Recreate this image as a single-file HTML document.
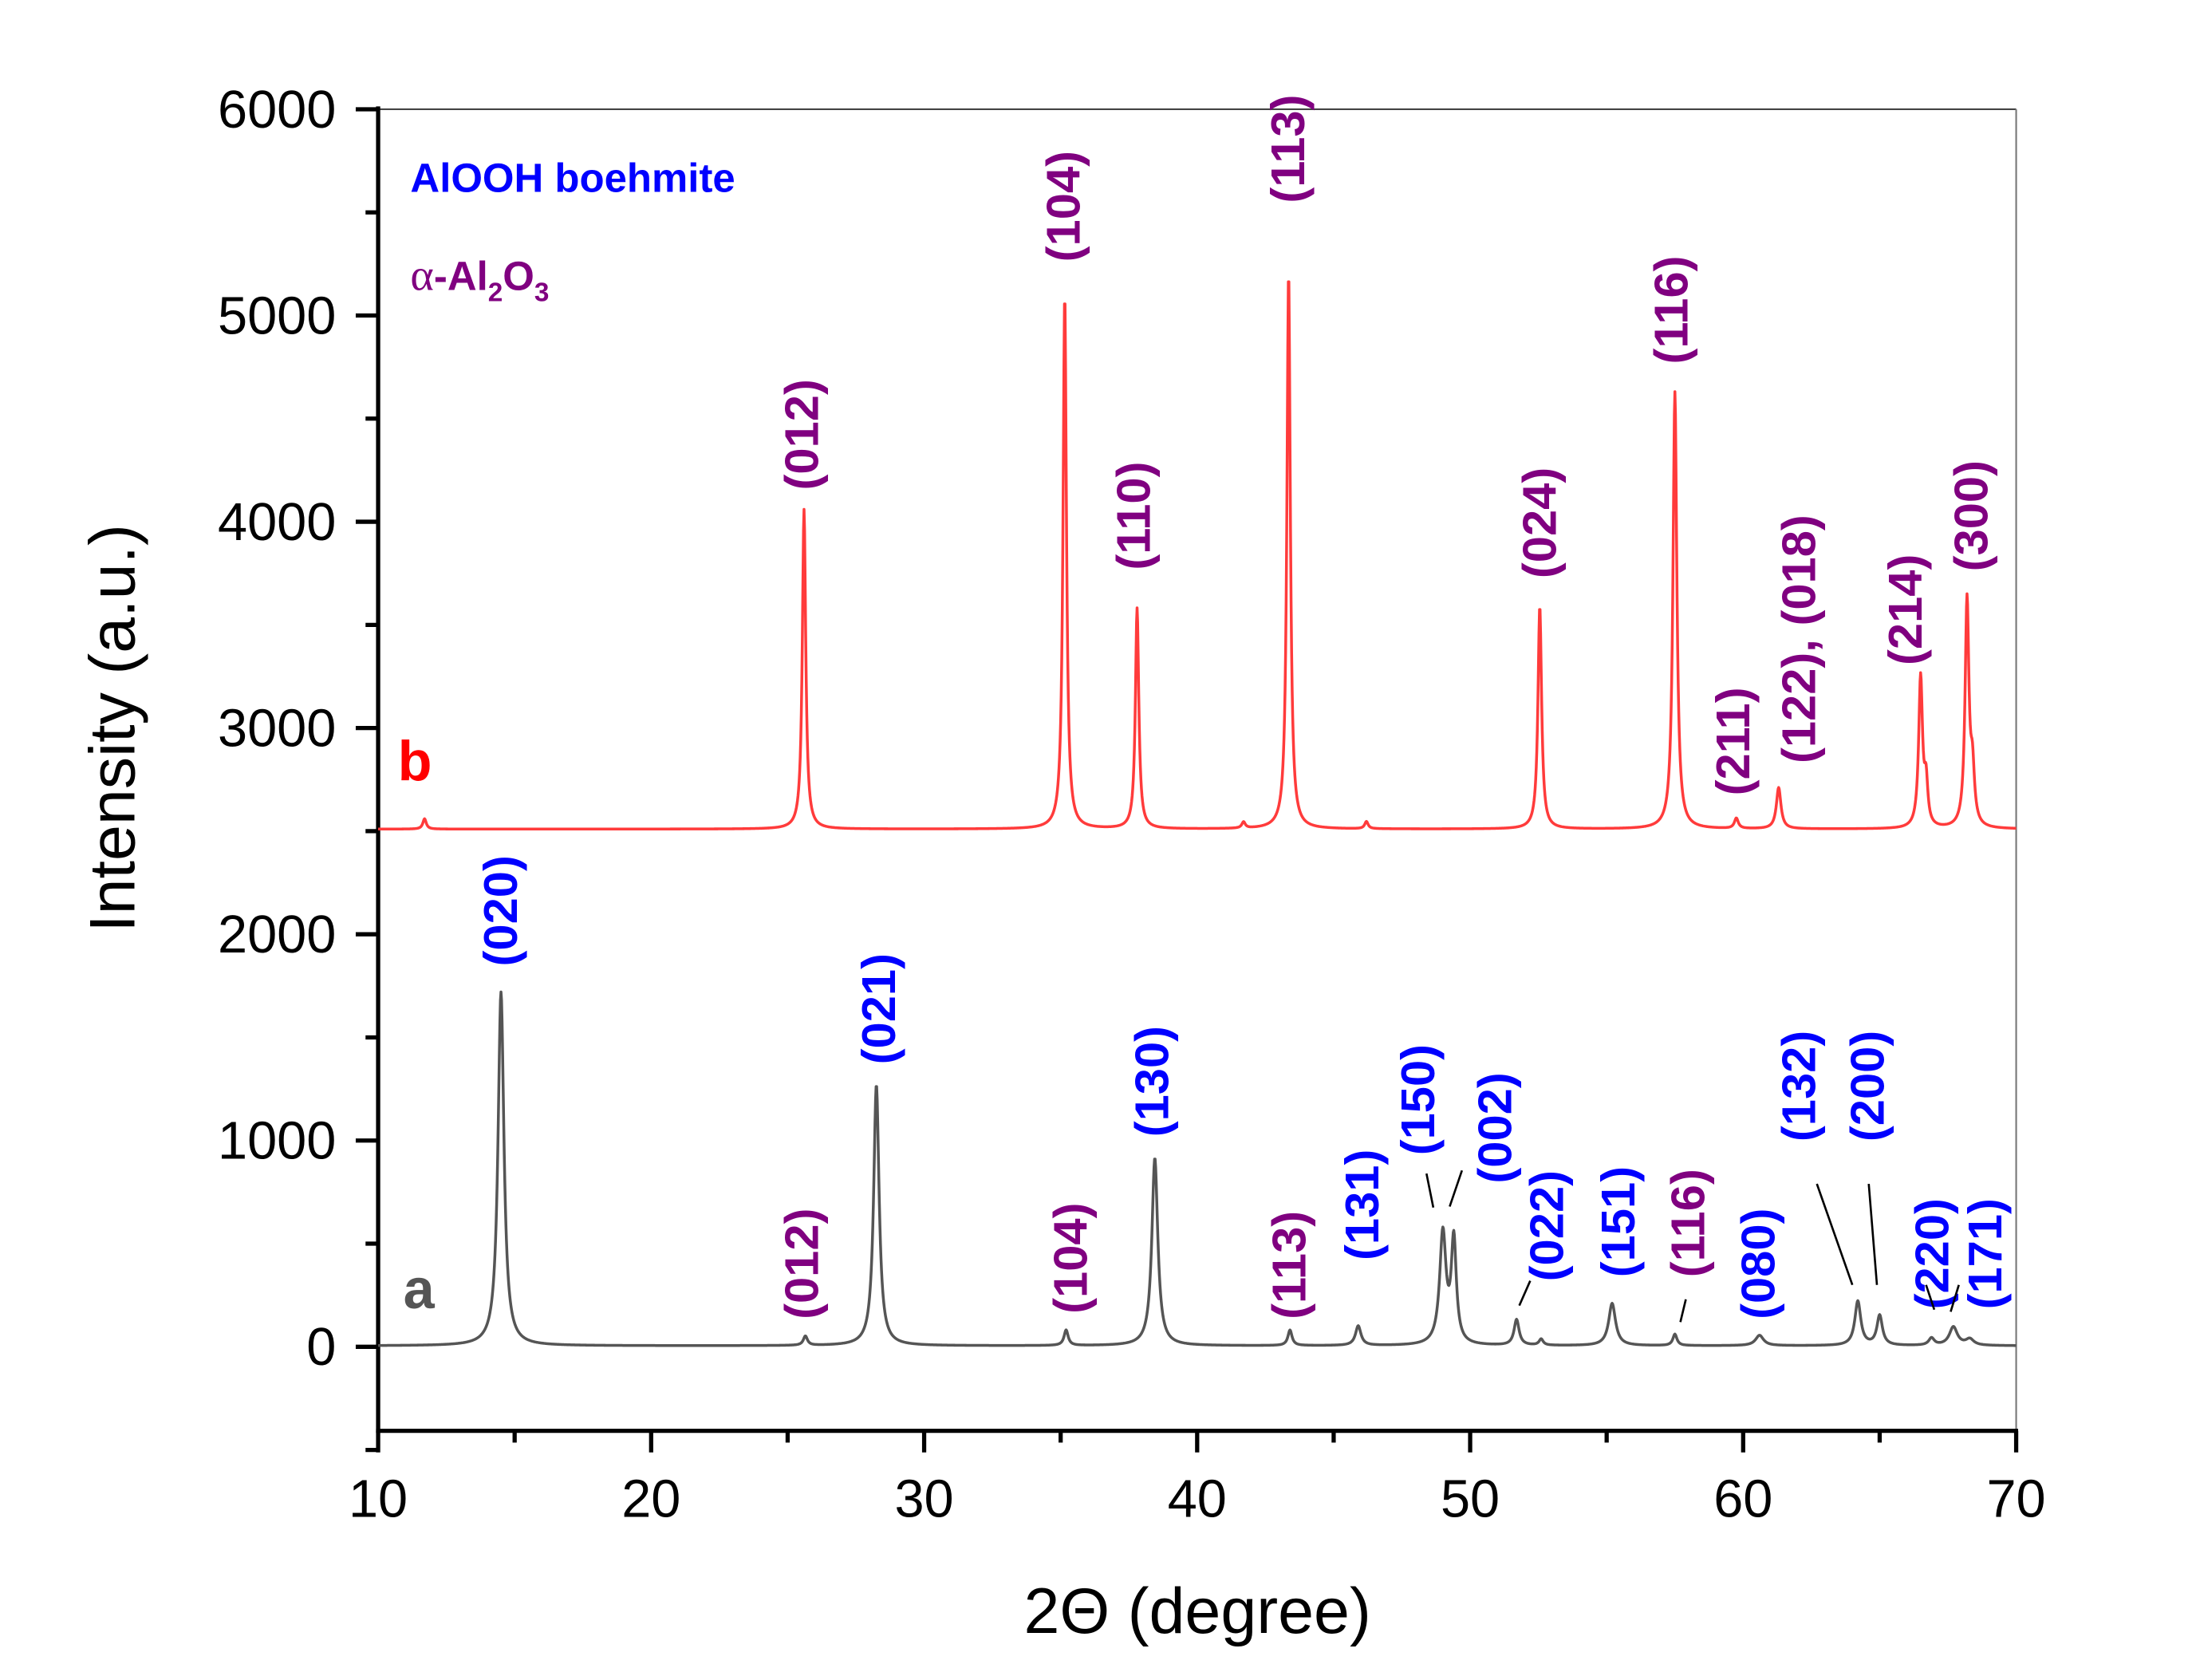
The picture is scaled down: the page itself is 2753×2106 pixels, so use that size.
<!DOCTYPE html>
<html><head><meta charset="utf-8"><style>
html,body{margin:0;padding:0;background:#fff;}
svg{display:block;font-family:"Liberation Sans",Arial,sans-serif;}
</style></head><body>
<svg id="chart" width="2753" height="2106" viewBox="0 0 1568 1199.5" xmlns="http://www.w3.org/2000/svg">
<g id="axes"></g>
<g id="series"></g>
<g id="labels"></g>
<text x="293" y="137" font-size="29" font-weight="bold" fill="#0000ff">AlOOH boehmite</text>
<text x="293" y="207" font-size="29" font-weight="bold" fill="#800080"><tspan font-family="'Liberation Serif',serif" font-weight="normal" font-size="32">α</tspan>-Al<tspan font-size="19" dy="8">2</tspan><tspan dy="-8">O</tspan><tspan font-size="19" dy="8">3</tspan></text>
<text x="284" y="557" font-size="40" font-weight="bold" fill="#ff0000">b</text>
<text x="288" y="934" font-size="40" font-weight="bold" fill="#555">a</text>
<text x="855" y="1166" font-size="46" text-anchor="middle">2Θ (degree)</text>
<text transform="translate(96,520) rotate(-90)" font-size="46" text-anchor="middle">Intensity (a.u.)</text>
</svg>
<script>
const xTicks=[10,20,30,40,50,60,70];
const yTicks=[0,1000,2000,3000,4000,5000,6000];
// series b (alpha-Al2O3)
const bBase=2510;
const bPos=[11.7,25.6,35.15,37.8,41.7,43.35,46.2,52.55,57.5,59.75,61.3,66.5,66.7,68.2,68.4];
const bHeight=[50,1550,2590,1070,30,2700,35,1080,2120,50,200,730,200,1100,250];
const bWidth=[0.15,0.15,0.15,0.15,0.15,0.15,0.15,0.16,0.17,0.17,0.2,0.17,0.15,0.17,0.17];
// series a (boehmite)
const aBase=5;
const aPos=[14.5,25.65,28.25,35.2,38.45,43.4,45.9,49.0,49.4,51.7,52.6,55.2,57.5,60.6,64.2,65.0,66.9,67.7,68.3];
const aHeight=[1715,45,1265,75,910,75,95,540,500,125,30,205,55,50,215,145,35,90,30];
const aWidth=[0.26,0.18,0.24,0.18,0.26,0.18,0.24,0.28,0.22,0.22,0.18,0.3,0.18,0.35,0.26,0.24,0.24,0.35,0.35];
// labels: text, x (deg), bottom end (intensity units), colour
const labelText=["(012)","(104)","(110)","(113)","(024)","(116)","(211)","(122), (018)","(214)","(300)",
"(020)","(012)","(021)","(104)","(130)","(113)","(131)","(150)","(002)","(022)","(151)","(116)","(080)","(132)","(200)","(220)","(171)"];
const labelX=[25.65,35.24,37.8,43.45,52.68,57.5,59.76,62.17,66.07,68.48,14.62,25.65,28.47,35.5,38.47,43.5,46.17,48.22,51.04,52.94,55.55,58.12,60.68,62.17,64.69,67.05,68.99];
const labelBottom=[4153,5260,3766,5545,3725,4764,2672,2828,3304,3759,1844,133,1369,160,1017,133,419,928,792,317,337,337,133,995,995,181,181];
const labelColor=["p","p","p","p","p","p","p","p","p","p","b","p","b","p","b","p","b","b","b","b","b","p","b","b","b","b","b"];
const leaders=[[48.4,840,48.65,675],[49.7,855,49.25,680],[52.2,320,51.8,200],[57.9,230,57.7,120],[62.7,790,64.0,300],[64.6,790,64.9,300],[66.7,300,67.0,180],[67.9,300,67.6,170]];
const X=v=>270+(v-10)*(1169.6/60);
const Y=v=>961.6-v*(883.6/6000);
const NS="http://www.w3.org/2000/svg";
function mk(tag,attrs,parent){const e=document.createElementNS(NS,tag);for(const k in attrs)e.setAttribute(k,attrs[k]);parent.appendChild(e);return e;}
const axes=document.getElementById('axes');
let fr=mk('line',{x1:270,y1:78,x2:1439.6,y2:78,stroke:'#444','stroke-width':1.2},axes);

fr=mk('line',{x1:1439.6,y1:78,x2:1439.6,y2:1021.6,stroke:'#777','stroke-width':1.2},axes);

let ax=mk('line',{x1:270,y1:76,x2:270,y2:1023,stroke:'#000','stroke-width':3},axes);

ax=mk('line',{x1:268.5,y1:1021.6,x2:1441,y2:1021.6,stroke:'#000','stroke-width':3},axes);

xTicks.forEach(t=>{const tk=mk('line',{x1:X(t),y1:1021.6,x2:X(t),y2:1037,stroke:'#000','stroke-width':3},axes);

const tl=mk('text',{x:X(t),y:1083,'font-size':38,'text-anchor':'middle'},axes);tl.textContent=t;

if(t<70){const m=mk('line',{x1:X(t+5),y1:1021.6,x2:X(t+5),y2:1030,stroke:'#000','stroke-width':3},axes);
}});
yTicks.forEach(t=>{const tk=mk('line',{x1:254,y1:Y(t),x2:270,y2:Y(t),stroke:'#000','stroke-width':3},axes);

const tl=mk('text',{x:240,y:Y(t)+13,'font-size':38,'text-anchor':'end'},axes);tl.textContent=t;

const m=mk('line',{x1:261,y1:Y(t-500),x2:270,y2:Y(t-500),stroke:'#000','stroke-width':3},axes);
});
function curve(base,pos,h,w){let d='';for(let x=10;x<=70.0001;x+=0.02){let v=base;for(let i=0;i<pos.length;i++){const g=w[i]/2;v+=h[i]*g*g/((x-pos[i])**2+g*g);}
d+=(d?'L':'M')+X(x).toFixed(2)+','+Y(v).toFixed(2);}return d;}
const series=document.getElementById('series');
const pb=mk('path',{d:curve(bBase,bPos,bHeight,bWidth),fill:'none',stroke:'#ff3b3b','stroke-width':2,'stroke-linejoin':'round'},series);

const pa=mk('path',{d:curve(aBase,aPos,aHeight,aWidth),fill:'none',stroke:'#555','stroke-width':2,'stroke-linejoin':'round'},series);

const lab=document.getElementById('labels');
labelText.forEach((t,i)=>{const x=X(labelX[i])+9,y=Y(labelBottom[i]);
const el=mk('text',{transform:`translate(${x.toFixed(1)},${y.toFixed(1)}) rotate(-90)`,'font-size':34,'font-weight':'bold',fill:labelColor[i]=='p'?'#800080':'#0000ff'},lab);
el.textContent=t;

});
leaders.forEach(l=>{const ln=mk('line',{x1:X(l[0]),y1:Y(l[1]),x2:X(l[2]),y2:Y(l[3]),stroke:'#000','stroke-width':1.5},lab);

});
</script>
</body></html>
